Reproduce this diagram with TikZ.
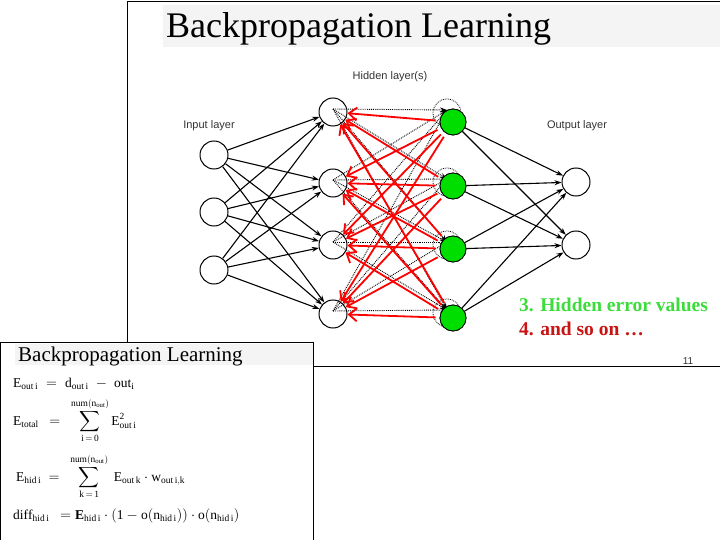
\documentclass[tikz,border=0pt]{standalone}
\usepackage{fontspec}
\setmainfont{Liberation Serif}
\setsansfont{Liberation Sans}
\usepackage{amsmath}
\usetikzlibrary{arrows.meta,calc}
\definecolor{errgreen}{RGB}{0,222,0}
\definecolor{hidgreen}{RGB}{60,220,60}
\definecolor{nextred}{RGB}{200,20,20}
\definecolor{titlebg}{RGB}{244,244,244}

\begin{document}
\begin{tikzpicture}[
  x=1pt, y=-1pt,
  neuron/.style={circle, draw, line width=1pt, minimum size=28pt,
                 inner sep=0pt, fill=white},
  hidnode/.style={circle, draw, densely dotted, line width=0.8pt,
                  minimum size=28pt, inner sep=0pt, fill=white},
  errnode/.style={circle, draw, line width=0.8pt, minimum size=26pt,
                  inner sep=0pt, fill=errgreen},
  layerlabel/.style={font=\sffamily\fontsize{11}{13}\selectfont, text=black!80},
  slidetitle/.style={anchor=base west, inner sep=0pt,
                     font=\fontsize{36}{40}\selectfont},
  smalltitle/.style={anchor=base west, inner sep=0pt,
                     font=\fontsize{21}{24}\selectfont},
  bullet/.style={anchor=base west, inner sep=0pt,
                 font=\bfseries\fontsize{19.5}{22}\selectfont},
  formula/.style={anchor=base west, inner sep=0pt,
                  font=\fontsize{13.5}{16}\selectfont},
  fwd/.style={draw, -{Stealth[length=7pt,width=5pt]}, line width=1.1pt},
  fwddot/.style={draw, densely dotted, -{Stealth[length=7pt,width=5pt]},
                 line width=0.9pt},
  back/.style={draw, red, line width=1.8pt,
               -{Straight Barb[length=8pt,width=13pt]}},
]
  \useasboundingbox (0,0) rectangle (720,540);

  % ===== Upper slide: frame and title =====
  \draw[line width=0.8pt] (127,342) -- (127,1) -- (720,1);
  \draw[line width=1pt] (313,366) -- (720,366);
  \fill[titlebg] (163,5) rectangle (720,47);
  \node[slidetitle] (toptitle) at (166,38) {Backpropagation Learning};

  % ===== Layer labels =====
  \node[layerlabel] (inlabel)  at (209,126) {Input layer};
  \node[layerlabel] (hidlabel) at (390,77)  {Hidden layer(s)};
  \node[layerlabel] (outlabel) at (577,126) {Output layer};

  % ===== Neurons =====
  \node[neuron] (in-1) at (214,155) {};
  \node[neuron] (in-2) at (214,212) {};
  \node[neuron] (in-3) at (214,270) {};

  \node[neuron] (ha-1) at (333,112) {};
  \node[neuron] (ha-2) at (333,183) {};
  \node[neuron] (ha-3) at (333,245) {};
  \node[neuron] (ha-4) at (333,314) {};

  \node[hidnode] (hb-1) at (447,113) {};
  \node[hidnode] (hb-2) at (447,182) {};
  \node[hidnode] (hb-3) at (447,245) {};
  \node[hidnode] (hb-4) at (447,313) {};

  \node[errnode] (err-1) at (453,122) {};
  \node[errnode] (err-2) at (453,186) {};
  \node[errnode] (err-3) at (453,249) {};
  \node[errnode] (err-4) at (453,318) {};

  \node[neuron] (out-1) at (576,182) {};
  \node[neuron] (out-2) at (576,245) {};

  % ===== Forward connections =====
  \foreach \i in {1,2,3}
    \foreach \j in {1,2,3,4}
      \draw[fwd] (in-\i) -- (ha-\j);
  \foreach \i in {1,2,3,4}
    \foreach \j in {1,2,3,4}
      \draw[fwddot] ($(ha-\i.center)+(0,-3)$) -- ($(hb-\j.center)+(0,-3)$);
  \foreach \i in {1,2,3,4}
    \foreach \j in {1,2}
      \draw[fwd] (err-\i) -- (out-\j);

  % ===== Back-propagated errors (red) =====
  \foreach \i in {1,2,3,4}
    \foreach \j in {1,2,3,4}
      \draw[back, shorten <=4pt] (err-\i) -- (ha-\j);

  % redraw green nodes on top
  \foreach \i/\y in {1/122,2/186,3/249,4/318}
    \node[errnode] at (453,\y) {};

  % ===== Step notes =====
  \node[bullet, text=hidgreen] (step3) at (519,311) {3. Hidden error values};
  \node[bullet, text=nextred]  (step4) at (519,335) {4. and so on \dots};
  \node[font=\sffamily\fontsize{10}{12}\selectfont, text=black!80]
       (pagenum) at (688,361) {11};

  % ===== Lower slide: frame, title, formulas =====
  \fill[white] (0,342) rectangle (313,540);
  \draw[line width=0.8pt] (0.5,540) -- (0.5,342.5) -- (313,342.5) -- (313,540);
  \fill[titlebg] (15,344) rectangle (312.5,365);
  \node[smalltitle] (bottitle) at (18,361) {Backpropagation Learning};

  \node[formula] (eout) at (13,387)
       {$\mathrm{E_{out\,i}\;=\;d_{out\,i}\;-\;out_i}$};
  \node[formula] (etotal) at (13,425)
       {$\mathrm{E_{total}}\ \ =\ \ \displaystyle\sum_{\mathrm{i\,=\,0}}^{\mathrm{num(n_{out})}}
        \mathrm{E^2_{out\,i}}$};
  \node[formula] (ehid) at (16,481)
       {$\mathrm{E_{hid\,i}}\ =\ \ \displaystyle\sum_{\mathrm{k\,=\,1}}^{\mathrm{num(n_{out})}}
        \ \mathrm{E_{out\,k}\cdot w_{out\,i,k}}$};
  \node[formula] (diffhid) at (13,519)
       {$\mathrm{diff_{hid\,i}}\ \ = \mathbf{E}_{\mathrm{hid\,i}}\cdot
        \mathrm{(1 - o(n_{hid\,i}))\cdot o(n_{hid\,i})}$};
\end{tikzpicture}
\end{document}
